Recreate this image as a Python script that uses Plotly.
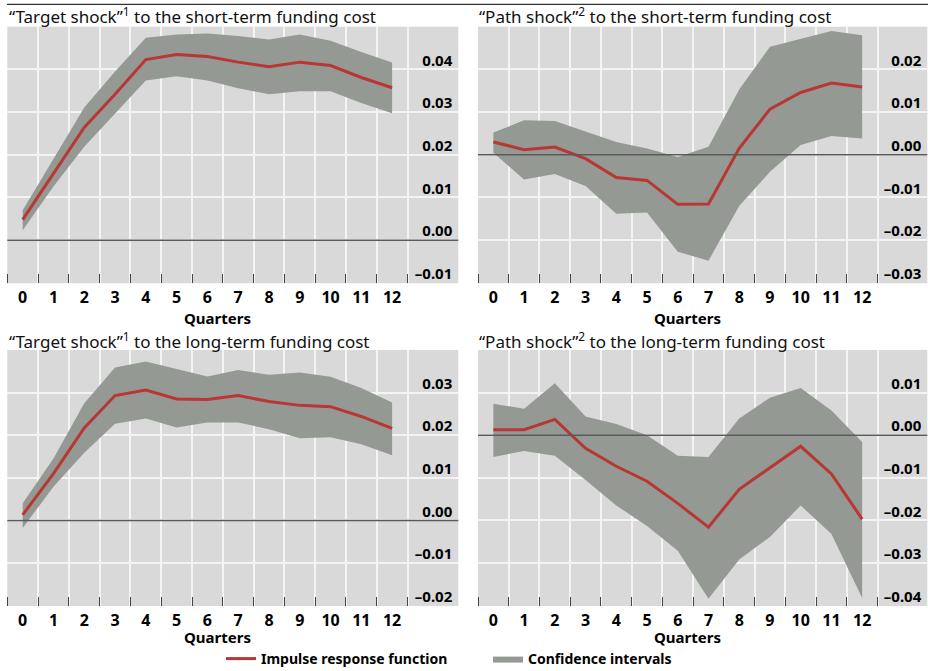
import plotly.graph_objects as go

W, H = 928, 671

quarters = list(range(13))
x_tick_labels = [str(q) for q in quarters]

# "Target shock" -> short-term funding cost
ts_irf = [0.0048, 0.0157, 0.0264, 0.0342, 0.0423, 0.0435, 0.0430, 0.0417, 0.0406, 0.0417, 0.0409, 0.0381, 0.0357]
ts_up = [0.0070, 0.0190, 0.0311, 0.0395, 0.0474, 0.0482, 0.0484, 0.0478, 0.0470, 0.0482, 0.0467, 0.0441, 0.0416]
ts_lo = [0.0023, 0.0126, 0.0219, 0.0297, 0.0374, 0.0384, 0.0374, 0.0356, 0.0342, 0.0349, 0.0349, 0.0321, 0.0297]

# "Path shock" -> short-term funding cost
ps_irf = [0.0030, 0.0012, 0.0018, -0.0009, -0.0053, -0.0060, -0.0116, -0.0115, 0.0015, 0.0107, 0.0146, 0.0168, 0.0159]
ps_up = [0.0052, 0.0081, 0.0079, 0.0055, 0.0030, 0.0015, -0.0005, 0.0019, 0.0153, 0.0253, 0.0271, 0.0290, 0.0280]
ps_lo = [0.0005, -0.0058, -0.0045, -0.0073, -0.0138, -0.0135, -0.0227, -0.0248, -0.0120, -0.0040, 0.0023, 0.0044, 0.0038]

# "Target shock" -> long-term funding cost
tl_irf = [0.0013, 0.0110, 0.0217, 0.0293, 0.0306, 0.0285, 0.0284, 0.0293, 0.0279, 0.0270, 0.0267, 0.0244, 0.0216]
tl_up = [0.0040, 0.0145, 0.0275, 0.0359, 0.0373, 0.0355, 0.0338, 0.0353, 0.0342, 0.0347, 0.0337, 0.0311, 0.0277]
tl_lo = [-0.0018, 0.0079, 0.0159, 0.0227, 0.0239, 0.0218, 0.0230, 0.0230, 0.0214, 0.0193, 0.0195, 0.0179, 0.0153]

# "Path shock" -> long-term funding cost
pl_irf = [0.0013, 0.0013, 0.0037, -0.0031, -0.0073, -0.0108, -0.0160, -0.0216, -0.0127, -0.0076, -0.0026, -0.0091, -0.0197]
pl_up = [0.0074, 0.0062, 0.0122, 0.0044, 0.0026, 0.0000, -0.0048, -0.0051, 0.0039, 0.0088, 0.0111, 0.0058, -0.0016]
pl_lo = [-0.0051, -0.0037, -0.0048, -0.0105, -0.0165, -0.0213, -0.0271, -0.0384, -0.0292, -0.0239, -0.0165, -0.0232, -0.0382]

titles = [
    "“Target shock”<sup>1</sup> to the short-term funding cost",
    "“Path shock”<sup>2</sup> to the short-term funding cost",
    "“Target shock”<sup>1</sup> to the long-term funding cost",
    "“Path shock”<sup>2</sup> to the long-term funding cost",
]

ytick_vals = [
    [-0.01, 0.0, 0.01, 0.02, 0.03, 0.04],
    [-0.03, -0.02, -0.01, 0.0, 0.01, 0.02],
    [-0.02, -0.01, 0.0, 0.01, 0.02, 0.03],
    [-0.04, -0.03, -0.02, -0.01, 0.0, 0.01],
]
ytick_text = [[("–%.2f" % abs(v)) if v < 0 else "%.2f" % v for v in vals] for vals in ytick_vals]
y_ranges = [[-0.0101, 0.05], [-0.0301, 0.03], [-0.0201, 0.04], [-0.0401, 0.02]]

panels = [
    (ts_irf, ts_up, ts_lo),
    (ps_irf, ps_up, ps_lo),
    (tl_irf, tl_up, tl_lo),
    (pl_irf, pl_up, pl_lo),
]

BG = "#d9d9d9"
BAND = "#949a93"
RED = "#b93634"
GRID = "#f4f4f4"
FONT = "Noto Sans"

x_domains = [[7.3 / W, 458.3 / W], [478 / W, 927.3 / W]]
y_domains = [[1 - 283.3 / H, 1 - 26.7 / H], [1 - 606 / H, 1 - 350 / H]]
x_ranges = [[-0.5, 14.15], [-0.5, 14.12]]

fig = go.Figure()
layout = dict(
    width=W, height=H,
    margin=dict(l=0, r=0, t=0, b=0, autoexpand=False),
    paper_bgcolor="white",
    plot_bgcolor=BG,
    font=dict(family=FONT, color="black"),
    showlegend=True,
    hovermode=False,
    legend=dict(
        orientation="h", x=221 / W, xanchor="left", y=1 - 659 / H, yanchor="middle",
        font=dict(family=FONT, size=14, weight="bold", color="black"),
        entrywidth=222, entrywidthmode="pixels", bgcolor="rgba(0,0,0,0)",
        itemwidth=30, tracegroupgap=0,
    ),
)
shapes = []
annotations = []
half_ticks = [q - 0.5 for q in quarters] + [quarters[-1] + 0.5]

for i, (irf, up, lo) in enumerate(panels):
    n = i + 1
    xa = "x" if n == 1 else "x%d" % n
    ya = "y" if n == 1 else "y%d" % n
    col = i % 2
    row = i // 2
    fig.add_trace(go.Scatter(
        x=quarters + quarters[::-1], y=up + lo[::-1], fill="toself",
        fillcolor=BAND, line=dict(width=0, color=BAND), mode="lines",
        name="Confidence intervals", legendrank=2, showlegend=(i == 0),
        xaxis=xa, yaxis=ya, hoverinfo="skip",
    ))
    fig.add_trace(go.Scatter(
        x=quarters, y=irf, mode="lines", line=dict(color=RED, width=3),
        name="Impulse response function", legendrank=1, showlegend=(i == 0),
        xaxis=xa, yaxis=ya, hoverinfo="skip",
    ))
    xkey = "xaxis" if n == 1 else "xaxis%d" % n
    ykey = "yaxis" if n == 1 else "yaxis%d" % n
    layout[xkey] = dict(
        domain=x_domains[col], range=x_ranges[col], anchor=ya,
        tickmode="array", tickvals=quarters, ticktext=x_tick_labels,
        showgrid=False, zeroline=False, showline=False, ticks="",
        ticklabelstandoff=3, automargin=False,
        tickfont=dict(family=FONT, size=16, weight="bold", color="black"),
        minor=dict(tickmode="array", tickvals=half_ticks, showgrid=True, gridcolor=GRID,
                   gridwidth=1.5, ticks="inside", ticklen=9, tickwidth=1, tickcolor="#444444"),
        fixedrange=True,
    )
    layout[ykey] = dict(
        domain=y_domains[row], range=y_ranges[i], anchor=xa, side="right",
        tickmode="array", tickvals=ytick_vals[i], ticktext=ytick_text[i],
        ticklabelposition="inside", ticklabelshift=-9, ticklabelstandoff=3,
        ticklabeloverflow="allow", automargin=False,
        showgrid=True, gridcolor=GRID, gridwidth=1.5, zeroline=False, showline=False, ticks="",
        tickfont=dict(family=FONT, size=15, weight="bold", color="black"),
        fixedrange=True,
    )
    shapes.append(dict(type="line", xref=xa + " domain", yref=ya, x0=0, x1=1, y0=0, y1=0,
                       line=dict(color="#5a5a5a", width=1.5), layer="above"))
    title_x = [7.3 / W, 477.3 / W][col]
    title_y = [1 - 15 / H, 1 - 340 / H][row]
    annotations.append(dict(text=titles[i], xref="paper", yref="paper", x=title_x, y=title_y,
                            xanchor="left", yanchor="middle", showarrow=False,
                            font=dict(family=FONT, size=17, color="#111111")))
    q_x = [217.3 / W, 687.3 / W][col]
    q_y = [1 - 318 / H, 1 - 637 / H][row]
    annotations.append(dict(text="Quarters", xref="paper", yref="paper", x=q_x, y=q_y,
                            xanchor="center", yanchor="middle", showarrow=False,
                            font=dict(family=FONT, size=15, weight="bold", color="black")))

shapes.append(dict(type="line", xref="paper", yref="paper", x0=7 / W, x1=1, y0=1 - 4.3 / H, y1=1 - 4.3 / H,
                   line=dict(color="black", width=1)))
layout["shapes"] = shapes
layout["annotations"] = annotations
fig.update_layout(**layout)
fig.write_html("out.html", config={"displayModeBar": False},
               post_script="document.body.style.margin='0';document.body.style.padding='0';")
